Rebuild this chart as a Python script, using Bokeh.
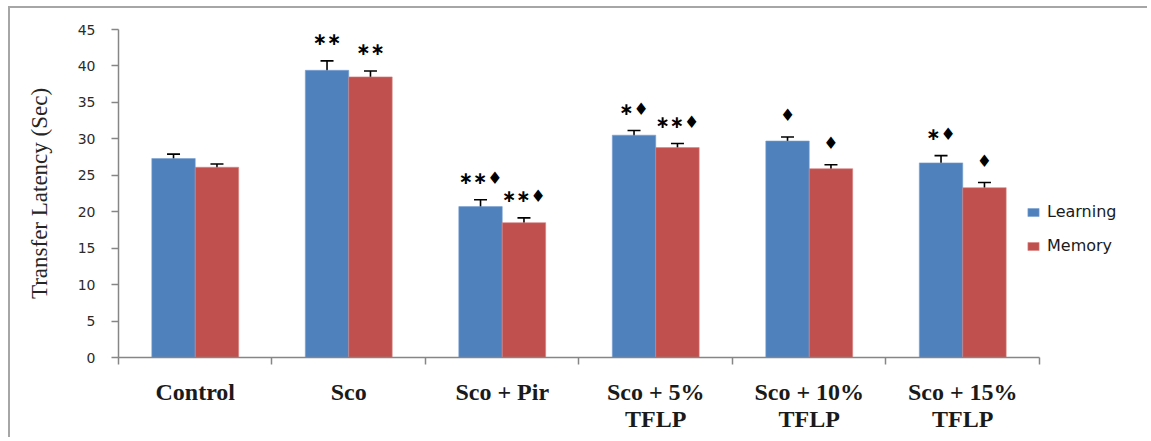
from bokeh.plotting import figure
from bokeh.models import ColumnDataSource, Range1d, FixedTicker, Whisker, Legend, LegendItem
from bokeh.core.properties import value
from bokeh.embed import file_html
from bokeh.resources import INLINE

categories = ["Control", "Sco", "Sco + Pir", "Sco + 5%\nTFLP", "Sco + 10%\nTFLP", "Sco + 15%\nTFLP"]
learning = [27.3, 39.4, 20.7, 30.5, 29.7, 26.7]
learning_err = [0.6, 1.3, 0.95, 0.65, 0.55, 1.0]
memory = [26.1, 38.5, 18.5, 28.8, 25.9, 23.3]
memory_err = [0.45, 0.8, 0.65, 0.55, 0.55, 0.7]
learning_marks = ["", "\u2217\u2217", "\u2217\u2217\u2666", "\u2217\u2666", "\u2666", "\u2217\u2666"]
memory_marks = ["", "\u2217\u2217", "\u2217\u2217\u2666", "\u2217\u2217\u2666", "\u2666", "\u2666"]
y_ticks = [0, 5, 10, 15, 20, 25, 30, 35, 40, 45]
series_names = ["Learning", "Memory"]

BLUE = "#4F81BD"
RED = "#C0504D"
BAR_W = 0.283
MARK_PAD = 3.0
X_END = 6.645  # leaves room on the right of the frame for the legend

n = len(categories)
centers = [i + 0.5 for i in range(n)]


def make_source(vals, errs, marks, shift):
    xs = [c + shift for c in centers]
    return ColumnDataSource(dict(
        x=xs, top=vals,
        lower=[v - e for v, e in zip(vals, errs)],
        upper=[v + e for v, e in zip(vals, errs)],
        mark_y=[v + e + MARK_PAD for v, e in zip(vals, errs)],
        mark=marks,
    ))


src_l = make_source(learning, learning_err, learning_marks, -BAR_W / 2)
src_m = make_source(memory, memory_err, memory_marks, BAR_W / 2)

p = figure(width=1139, height=431, x_range=Range1d(0, X_END), y_range=Range1d(0, 45),
           output_backend="svg", toolbar_location=None,
           min_border_left=108, min_border_right=11, min_border_top=21, min_border_bottom=82)
p.outline_line_color = None
p.xgrid.visible = False
p.ygrid.visible = False
p.styles = {"margin-left": "8px", "margin-top": "6px",
            "border-top": "2px solid #a6a6a6", "border-left": "2px solid #a6a6a6"}

r_l = p.vbar(x="x", top="top", width=BAR_W, source=src_l, fill_color=BLUE, line_color="#7a9fd0", line_width=0.6)
r_m = p.vbar(x="x", top="top", width=BAR_W, source=src_m, fill_color=RED, line_color="#d98583", line_width=0.6)

for src in (src_l, src_m):
    w = Whisker(base="x", lower="lower", upper="upper", source=src, line_color="black", line_width=1.6)
    for head in (w.upper_head, w.lower_head):
        head.size = 13
        head.line_width = 1.6
        head.line_color = "black"
    p.add_layout(w)
    p.text(x="x", y="mark_y", text="mark", source=src, text_align="center", text_baseline="middle",
           text_font=value("DejaVu Sans"), text_font_size="17px", text_font_style="bold", text_color="black")

# x axis
xa = p.xaxis[0]
xa.bounds = (0, n)
xa.ticker = FixedTicker(ticks=centers, minor_ticks=list(range(n + 1)))
xa.major_label_overrides = {c: lab for c, lab in zip(centers, categories)}
xa.major_tick_line_color = None
xa.major_tick_out = 0
xa.major_tick_in = 0
xa.minor_tick_out = 7
xa.minor_tick_in = 0
xa.minor_tick_line_color = "#868686"
xa.minor_tick_line_width = 1.5
xa.axis_line_color = "#868686"
xa.axis_line_width = 1.5
xa.major_label_standoff = 14
xa.major_label_text_font = "Liberation Serif"
xa.major_label_text_font_size = "24px"
xa.major_label_text_font_style = "bold"
xa.major_label_text_line_height = 1.05
xa.major_label_text_color = "#1a1a1a"

# y axis
ya = p.yaxis[0]
ya.ticker = FixedTicker(ticks=y_ticks)
ya.minor_tick_line_color = None
ya.major_tick_out = 7
ya.major_tick_in = 0
ya.major_tick_line_color = "#868686"
ya.major_tick_line_width = 1.5
ya.axis_line_color = "#868686"
ya.axis_line_width = 1.5
ya.major_label_standoff = 16
ya.major_label_text_font = "DejaVu Sans"
ya.major_label_text_font_size = "14px"
ya.major_label_text_color = "#2b2b2b"
ya.axis_label = "Transfer Latency (Sec)"
ya.axis_label_text_font = "Liberation Serif"
ya.axis_label_text_font_size = "23px"
ya.axis_label_text_font_style = "normal"
ya.axis_label_text_color = "#262626"
ya.axis_label_standoff = 23

legend = Legend(items=[LegendItem(label=series_names[0], renderers=[r_l]),
                       LegendItem(label=series_names[1], renderers=[r_m])],
                location=(908, 102))
legend.border_line_color = None
legend.background_fill_alpha = 0
legend.glyph_width = 14
legend.glyph_height = 10
legend.label_text_font = "DejaVu Sans"
legend.label_text_font_size = "16px"
legend.label_text_color = "#1a1a1a"
legend.spacing = 15
legend.label_standoff = 7
p.add_layout(legend, "center")

open("out.html", "w").write(file_html(p, INLINE))
